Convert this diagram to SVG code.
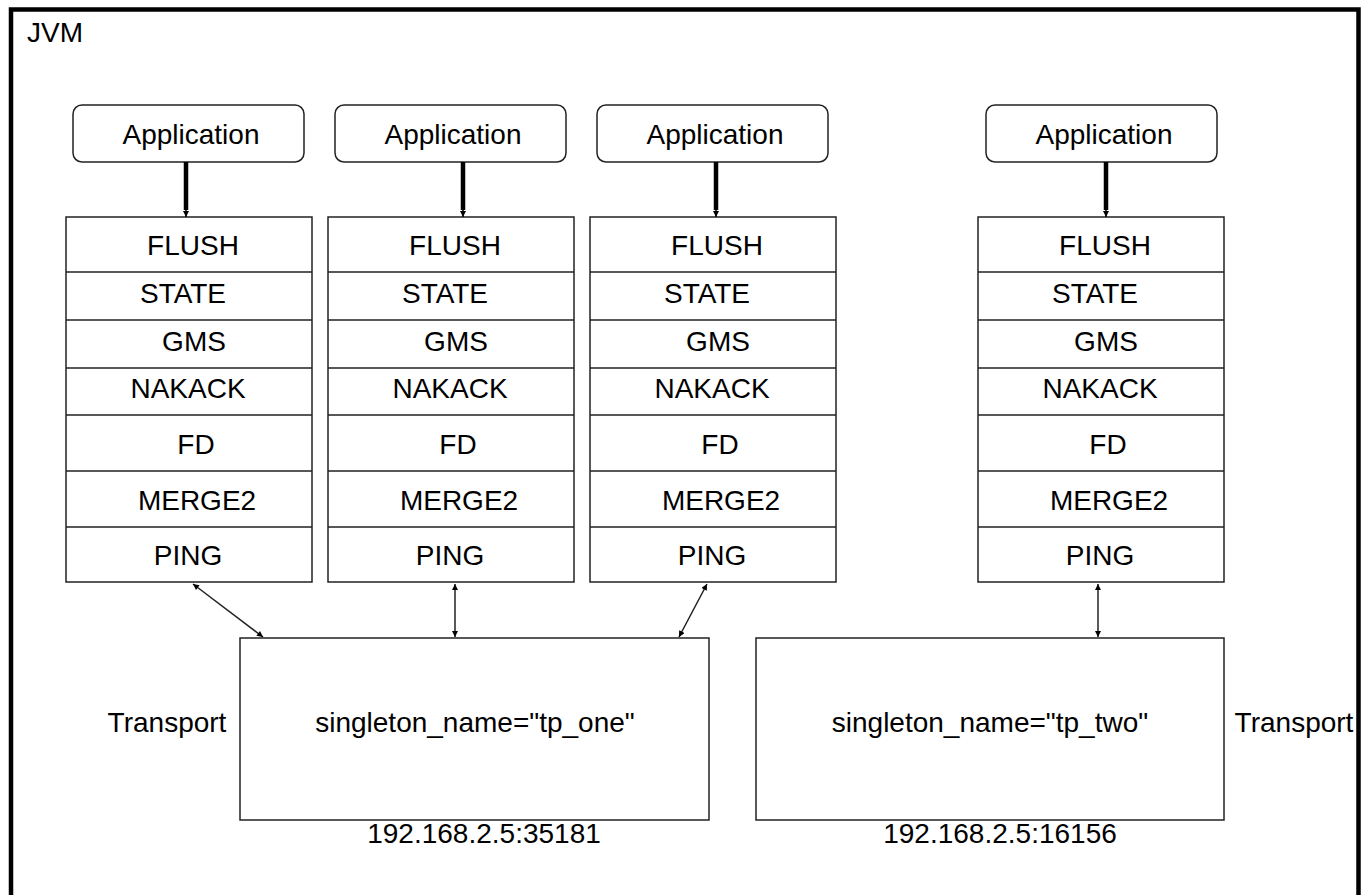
<svg xmlns="http://www.w3.org/2000/svg" width="1364" height="895" viewBox="0 0 1364 895">
<style>
text{font-family:"Liberation Sans",Arial,sans-serif;font-size:28px;fill:#000}
.box{fill:#fff;stroke:#222;stroke-width:1.5}
.mid{text-anchor:middle}
.thin{stroke:#222;stroke-width:1.5;fill:none;marker-start:url(#ah);marker-end:url(#ah)}
.thick{stroke:#000;stroke-width:4.5;fill:none}
</style>
<defs>
<marker id="ah" viewBox="0 0 10 10" refX="10" refY="5" markerWidth="7" markerHeight="6" orient="auto-start-reverse" markerUnits="userSpaceOnUse"><path d="M0,0 L10,5 L0,10 z" fill="#000"/></marker>
<marker id="ahs" viewBox="0 0 10 10" refX="10" refY="5" markerWidth="6" markerHeight="6" orient="auto" markerUnits="userSpaceOnUse"><path d="M0,0 L10,5 L0,10 z" fill="#000"/></marker>
<g id="stackTpl">
<rect class="box" x="0" y="0" width="246" height="365"/>
<path d="M0,55H246M0,103H246M0,151H246M0,198H246M0,254H246M0,310H246" stroke="#222" stroke-width="1.5"/>
<text class="mid" x="127" y="38">FLUSH</text>
<text class="mid" x="117" y="86">STATE</text>
<text class="mid" x="128" y="134">GMS</text>
<text class="mid" x="122" y="181">NAKACK</text>
<text class="mid" x="130" y="237">FD</text>
<text class="mid" x="131" y="293">MERGE2</text>
<text class="mid" x="122" y="348">PING</text>
</g>
</defs>
<rect width="1364" height="895" fill="#fff"/>
<g id="jvm">
<rect x="11" y="9.5" width="1347.5" height="900" fill="none" stroke="#000" stroke-width="4.5"/>
<text x="27" y="42">JVM</text>
</g>
<g id="app1"><rect class="box" x="73" y="105" width="231" height="57" rx="9"/><text class="mid" x="191" y="144">Application</text></g>
<g id="app2"><rect class="box" x="335" y="105" width="231" height="57" rx="9"/><text class="mid" x="453" y="144">Application</text></g>
<g id="app3"><rect class="box" x="597" y="105" width="231" height="57" rx="9"/><text class="mid" x="715" y="144">Application</text></g>
<g id="app4"><rect class="box" x="986" y="105" width="231" height="57" rx="9"/><text class="mid" x="1104" y="144">Application</text></g>
<g id="stack1"><use href="#stackTpl" transform="translate(66,217)"/></g>
<g id="stack2"><use href="#stackTpl" transform="translate(328,217)"/></g>
<g id="stack3"><use href="#stackTpl" transform="translate(590,217)"/></g>
<g id="stack4"><use href="#stackTpl" transform="translate(978,217)"/></g>
<g id="transport1">
<rect class="box" x="240" y="638" width="469" height="182"/>
<text class="mid" x="475" y="732">singleton_name="tp_one"</text>
<text class="mid" x="167" y="732">Transport</text>
<text class="mid" x="484" y="843">192.168.2.5:35181</text>
</g>
<g id="transport2">
<rect class="box" x="756" y="638" width="468" height="182"/>
<text class="mid" x="990" y="732">singleton_name="tp_two"</text>
<text class="mid" x="1294" y="732">Transport</text>
<text class="mid" x="1000" y="843">192.168.2.5:16156</text>
</g>
<g id="connectors">
<line class="thick" x1="186" y1="162" x2="186" y2="210"/>
<line class="thick" x1="463" y1="162" x2="463" y2="210"/>
<line class="thick" x1="716" y1="162" x2="716" y2="210"/>
<line class="thick" x1="1106" y1="162" x2="1106" y2="210"/>
<line stroke="#000" stroke-width="1.5" x1="186" y1="208" x2="186" y2="217" marker-end="url(#ahs)"/>
<line stroke="#000" stroke-width="1.5" x1="463" y1="208" x2="463" y2="217" marker-end="url(#ahs)"/>
<line stroke="#000" stroke-width="1.5" x1="716" y1="208" x2="716" y2="217" marker-end="url(#ahs)"/>
<line stroke="#000" stroke-width="1.5" x1="1106" y1="208" x2="1106" y2="217" marker-end="url(#ahs)"/>
<line class="thin" x1="193" y1="584" x2="263" y2="637"/>
<line class="thin" x1="455" y1="584" x2="455" y2="637"/>
<line class="thin" x1="707" y1="584" x2="679" y2="637"/>
<line class="thin" x1="1098" y1="584" x2="1098" y2="637"/>
</g>
</svg>
